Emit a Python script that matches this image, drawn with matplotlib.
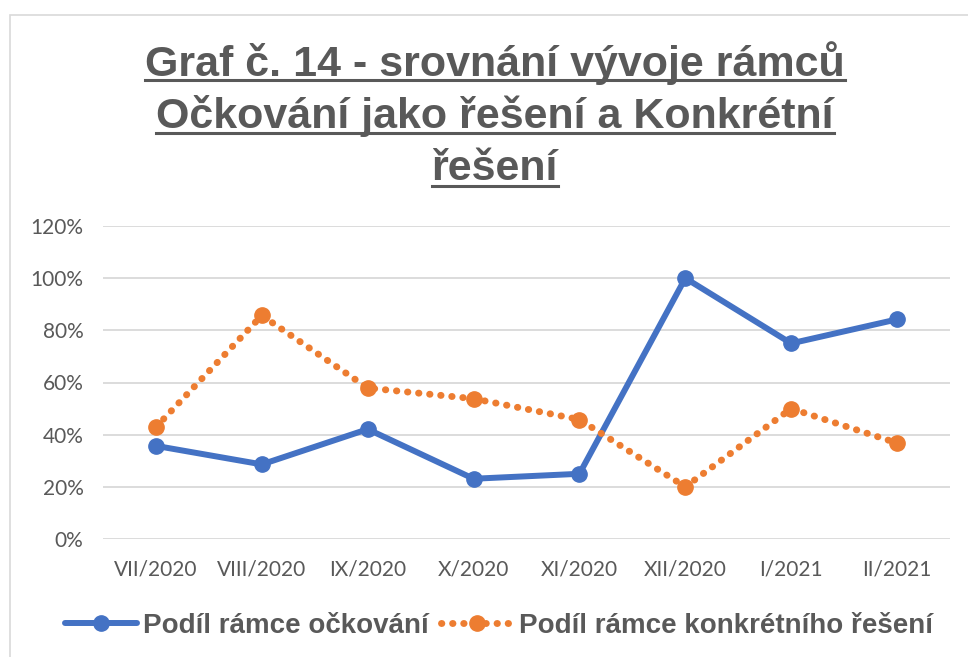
import matplotlib
matplotlib.use("Agg")
import matplotlib.pyplot as plt
from matplotlib.lines import Line2D
from matplotlib.patches import Rectangle
from matplotlib.ticker import PercentFormatter

months = ["VII/2020", "VIII/2020", "IX/2020", "X/2020", "XI/2020", "XII/2020", "I/2021", "II/2021"]
ockovani = [35.7, 28.6, 42.1, 23.1, 25.0, 100.0, 75.0, 84.2]
konkretni = [42.9, 85.7, 57.9, 53.8, 45.8, 20.0, 50.0, 36.8]

title_lines = ["Graf č. 14 - srovnání vývoje rámců", "Očkování jako řešení a Konkrétní", "řešení"]
label_ock = "Podíl rámce očkování"
label_konk = "Podíl rámce konkrétního řešení"

GREY = "#595959"
BLUE = "#4472c4"
ORANGE = "#ed7d31"
W, H = 968, 657

fig = plt.figure(figsize=(W / 100, H / 100), dpi=100)
fig.patches.append(Rectangle((10 / W, -0.1), 1.2, 1.1 - 15 / H, transform=fig.transFigure,
                             fill=False, edgecolor="#d9d9d9", linewidth=1.2))

ax = fig.add_axes([103 / W, 1 - 539 / H, (950 - 103) / W, (539 - 226) / H])
xs = list(range(len(months)))
ax.plot(xs, ockovani, color=BLUE, lw=4.3, marker="o", ms=11, solid_capstyle="round",
        label=label_ock, zorder=3)
ax.plot(xs, konkretni, color=ORANGE, lw=5, linestyle=(0, (0.05, 1.55)), dash_capstyle="round",
        marker="o", ms=11, label=label_konk, zorder=3)

ax.set_ylim(0, 120)
ax.set_yticks(range(0, 121, 20))
ax.yaxis.set_major_formatter(PercentFormatter(decimals=0))
ax.set_xlim(-0.5, len(months) - 0.5)
ax.set_xticks(xs)
ax.set_xticklabels(months)
ax.grid(axis="y", color="#d9d9d9", lw=1.3)
ax.set_axisbelow(True)
for s in ax.spines.values():
    s.set_visible(False)
ax.tick_params(length=0, labelsize=15, labelcolor=GREY)
ax.tick_params(axis="x", pad=15)
ax.tick_params(axis="y", pad=14)
for lab in ax.get_xticklabels() + ax.get_yticklabels():
    lab.set_family("Lato")

# title with manual underline
renderer = fig.canvas.get_renderer()
for i, line in enumerate(title_lines):
    yc = 1 - (63 + i * 53) / H
    t = fig.text(495 / W, yc, line, ha="center", va="center", fontsize=31, fontweight="bold",
                 family="Liberation Sans", color=GREY)
    bb = t.get_window_extent(renderer)
    uy = (H - (80 + i * 53)) / H
    fig.lines.append(Line2D([bb.x0 / W, bb.x1 / W], [uy, uy], transform=fig.transFigure,
                            color=GREY, lw=2.2))

leg = fig.legend(loc="center", bbox_to_anchor=(499 / W, 1 - 626 / H), ncol=2, frameon=False,
                 handlelength=2.6, columnspacing=0.45, handletextpad=0.22,
                 prop={"family": "Liberation Sans", "weight": "bold", "size": 20})
for txt in leg.get_texts():
    txt.set_color(GREY)

fig.savefig("out.png", dpi=100)
